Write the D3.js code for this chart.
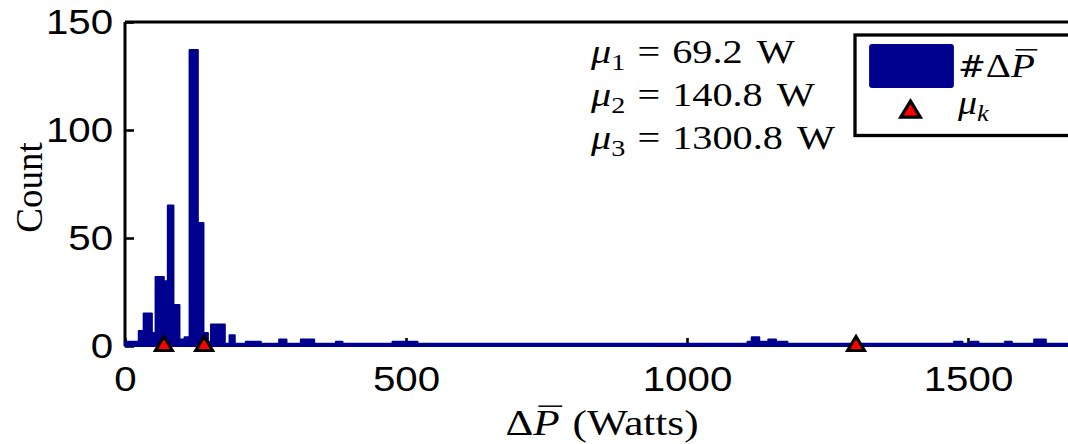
<!DOCTYPE html>
<html>
<head>
<meta charset="utf-8">
<script src="https://cdn.jsdelivr.net/npm/d3@7"></script>
<style>
  body { margin: 0; background: #fff; }
  svg { display: block; }
</style>
</head>
<body>
<svg id="chart" width="1068" height="444"></svg>
<script>
// histogram of the power steps, bin edges (W) and counts
const binEdges = [0, 24.5, 33.2, 47.8, 54.4, 69.1, 76.2, 86.2, 96.9, 106, 114.9, 129.6, 139.6,
  147.5, 153, 177.6, 186, 195.3, 215, 241.7, 274.3, 287.3, 312.9, 336.6, 375.2, 386.9, 476,
  520.4, 1107.7, 1115.1, 1128.6, 1144.7, 1158.4, 1178.7, 1475.2, 1490, 1505, 1518.6, 1565.6,
  1578, 1617.7, 1638.5, 1700];
const counts = [2, 7, 15, 6, 32, 30, 65, 19, 3, 4, 137, 57, 6, 2, 10, 1, 5, 1, 2, 1, 3, 1, 3,
  1, 2, 1, 2, 1, 2, 4, 2, 3, 2, 1, 2, 1, 2, 1, 2, 1, 3, 1];
// cluster means
const means = [69.2, 140.8, 1300.8];
const meanLabels = ["69.2", "140.8", "1300.8"];
const xTicks = [0, 500, 1000, 1500];
const yTicks = [0, 50, 100, 150];

const barColor = "#00008f";
const sans = "'Liberation Sans', Arial, Helvetica, sans-serif";
const serif = "'Liberation Serif', 'Times New Roman', serif";
const tickSx = 1.15;   // the figure is a bit stretched sideways

const svg = d3.select("#chart");

const x = d3.scaleLinear().domain([0, 1700]).range([125, 1080.4]);
const y = d3.scaleLinear().domain([0, 150]).range([346, 22]);

const bins = counts.map((c, i) => ({ x0: binEdges[i], x1: binEdges[i + 1], n: c }));

// lays out a bit of "latex" text piece by piece
function richText(parent, px, py, parts, opt) {
  const size = opt.size;
  const g = parent.append("g").attr("font-family", serif).attr("fill", "#000");
  const inner = g.append("g");
  let cx = 0;
  parts.forEach(p => {
    const fs = (p.sub ? size * 0.7 : size) * (p.scale || 1);
    const t = inner.append("text")
      .attr("x", cx)
      .attr("y", p.sub ? size * 0.22 : 0)
      .attr("font-size", fs)
      .attr("font-family", p.font || null)
      .attr("font-style", p.it ? "italic" : null)
      .text(p.t);
    const w = t.node().getComputedTextLength();
    if (p.bar) {
      inner.append("line")
        .attr("x1", cx + w * 0.2).attr("x2", cx + w * 1.1)
        .attr("y1", -size * 0.8).attr("y2", -size * 0.8)
        .attr("stroke", "#000").attr("stroke-width", 1.5);
    }
    cx += w + (p.gap || 0) * size;
  });
  const sx = opt.sx || 1;
  const shift = opt.anchor === "middle" ? -cx / 2 : 0;
  g.attr("transform", `translate(${px},${py}) scale(${sx},1) translate(${shift},0)`);
  return g;
}

const triangle = "M0,-9.5L8.5,4.5L-8.5,4.5Z";

// axes box (left + top), drawn under the data like matlab does
const axes = svg.append("g").attr("stroke", "#000").attr("stroke-width", 3).attr("fill", "none");
axes.append("line").attr("x1", x(0)).attr("x2", x(0)).attr("y1", y(150)).attr("y2", y(0));
axes.append("line").attr("x1", x(0)).attr("x2", x(1700)).attr("y1", y(150)).attr("y2", y(150));

const yAxis = svg.append("g")
  .attr("transform", `translate(${x(0)},0)`)
  .call(d3.axisLeft(y).tickValues(yTicks).tickSizeInner(-9).tickSizeOuter(0).tickPadding(12));
const xAxis = svg.append("g")
  .attr("transform", `translate(0,${y(0)})`)
  .call(d3.axisBottom(x).tickValues(xTicks).tickFormat(d3.format("d"))
    .tickSizeInner(-8).tickSizeOuter(0).tickPadding(20));

[yAxis, xAxis].forEach(a => {
  a.select(".domain").remove();
  a.selectAll("line").attr("stroke", "#000").attr("stroke-width", 2.6);
  a.selectAll("text")
    .attr("font-family", sans).attr("font-size", 35).attr("fill", "#000")
    .attr("transform", `scale(${tickSx},1)`);
});
yAxis.selectAll("text").attr("x", -12 / tickSx);

// histogram bars
svg.append("g")
  .selectAll("rect")
  .data(bins)
  .join("rect")
  .attr("x", d => x(d.x0))
  .attr("width", d => x(d.x1) - x(d.x0))
  .attr("y", d => y(d.n))
  .attr("height", d => y(0) - y(d.n))
  .attr("fill", barColor)
  .attr("stroke", barColor)
  .attr("stroke-width", 2)
  .attr("stroke-linejoin", "round");

// cluster means on the baseline
svg.append("g")
  .selectAll("path")
  .data(means)
  .join("path")
  .attr("d", triangle)
  .attr("transform", d => `translate(${x(d)},${y(0)})`)
  .attr("fill", "#ff0000")
  .attr("stroke", "#000")
  .attr("stroke-width", 3);

// axis titles
svg.append("text")
  .attr("transform", "translate(42,187.5) rotate(-90)")
  .attr("text-anchor", "middle")
  .attr("font-family", serif)
  .attr("font-size", 37)
  .text("Count");

richText(svg, 602, 435, [
  { t: "Δ" },
  { t: "P", it: true, bar: true, gap: 0.3 },
  { t: "(Watts)" }
], { size: 36, sx: 1.2, anchor: "middle" });

// mean annotations
meanLabels.forEach((m, i) => {
  richText(svg, 591, 63 + i * 43, [
    { t: "μ", it: true },
    { t: String(i + 1), sub: true, gap: 0.3 },
    { t: "=", gap: 0.3 },
    { t: m, gap: 0.35 },
    { t: "W" }
  ], { size: 33, sx: 1.22 });
});

// legend
const leg = svg.append("g");
leg.append("rect")
  .attr("x", 855).attr("y", 35).attr("width", 300).attr("height", 100.5)
  .attr("fill", "#fff").attr("stroke", "#000").attr("stroke-width", 3.3);
leg.append("rect")
  .attr("x", 870).attr("y", 45).attr("width", 83).attr("height", 42).attr("rx", 2)
  .attr("fill", barColor).attr("stroke", barColor).attr("stroke-width", 1.8);
leg.append("path")
  .attr("d", triangle)
  .attr("transform", "translate(910.5,112) scale(1.15)")
  .attr("fill", "#ff0000").attr("stroke", "#000").attr("stroke-width", 2.8);
richText(leg, 958, 77, [
  { t: "#", font: "'DejaVu Serif', serif", scale: 0.85 },
  { t: "Δ" },
  { t: "P", it: true, bar: true }
], { size: 34, sx: 1.15 });
richText(leg, 958, 114, [
  { t: "μ", it: true },
  { t: "k", it: true, sub: true }
], { size: 33, sx: 1.15 });
</script>
</body>
</html>
